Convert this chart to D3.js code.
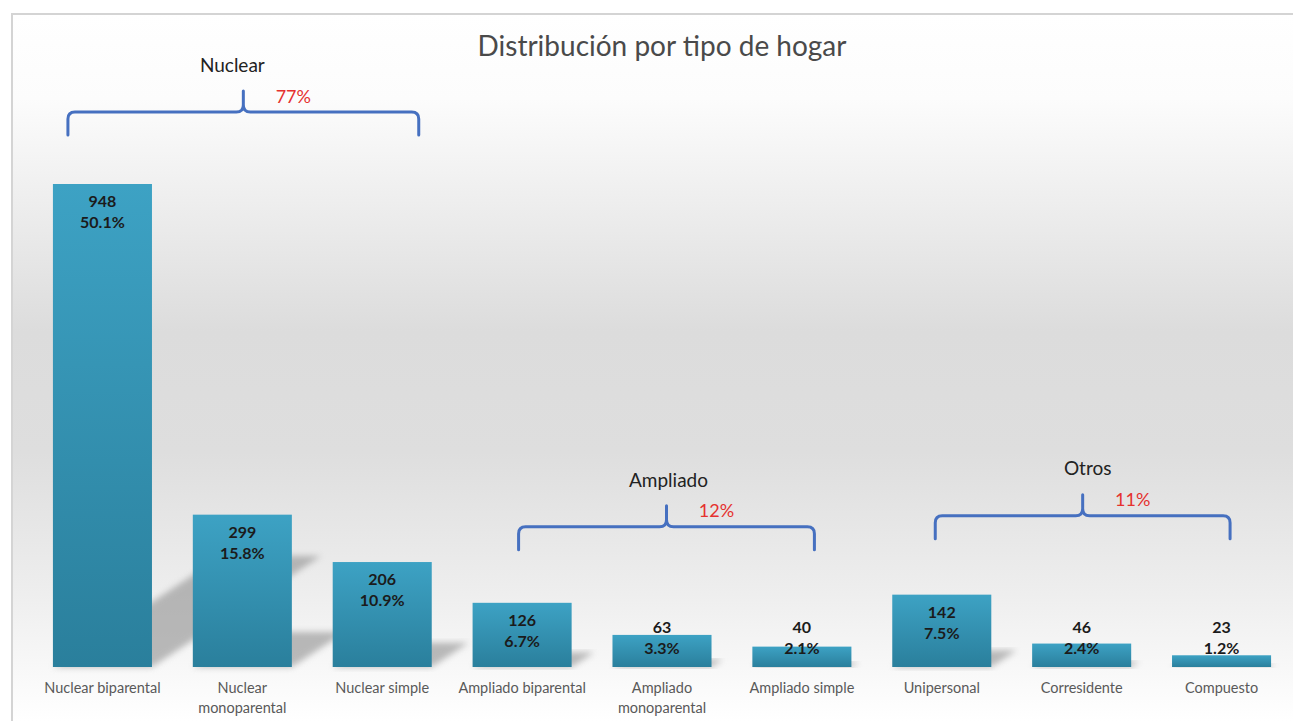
<!DOCTYPE html>
<html>
<head>
<meta charset="utf-8">
<script src="https://cdn.jsdelivr.net/npm/d3@7"></script>
<style>
  html, body { margin: 0; padding: 0; background: #fff; }
  svg { display: block; }
</style>
</head>
<body>
<svg id="chart" width="1293" height="721"></svg>
<script>
//
// DATA
//
const categories = [
    ['Nuclear biparental'],
    ['Nuclear', 'monoparental'],
    ['Nuclear simple'],
    ['Ampliado biparental'],
    ['Ampliado', 'monoparental'],
    ['Ampliado simple'],
    ['Unipersonal'],
    ['Corresidente'],
    ['Compuesto']
]
const counts = [948, 299, 206, 126, 63, 40, 142, 46, 23]
const percents = ['50.1%', '15.8%', '10.9%', '6.7%', '3.3%', '2.1%', '7.5%', '2.4%', '1.2%']
const groupNames = ['Nuclear', 'Ampliado', 'Otros']
const groupPercents = ['77%', '12%', '11%']
const groupRanges = [[0, 2], [3, 5], [6, 8]]

// brace layout: left inset, right inset, lift above tallest bar, label shift
const braceLayout = [
    [15, 13, 72, -11],
    [46, 37, 76, 2],
    [43, 41, 79, 5]
]

const W = 1293
const H = 721
const svg = d3.select('#chart')
const defs = svg.append('defs')

// background gradient of the chart area
const bg = defs.append('linearGradient')
    .attr('id', 'bgGrad')
    .attr('x1', 0).attr('y1', 0).attr('x2', 0).attr('y2', 1)
;[[0, '#ffffff'], [0.12, '#fcfcfc'], [0.45, '#dcdcdc'], [0.62, '#dedede'], [0.82, '#eeeeee'], [1, '#ffffff']]
    .forEach(s => bg.append('stop').attr('offset', s[0]).attr('stop-color', s[1]))

// bar gradient
const bar = defs.append('linearGradient')
    .attr('id', 'barGrad')
    .attr('x1', 0).attr('y1', 0).attr('x2', 0).attr('y2', 1)
bar.append('stop').attr('offset', 0).attr('stop-color', '#3da2c4')
bar.append('stop').attr('offset', 1).attr('stop-color', '#2a7f9c')

// shadow blur
defs.append('filter')
    .attr('id', 'blur')
    .attr('x', '-20%').attr('y', '-20%').attr('width', '140%').attr('height', '140%')
    .append('feGaussianBlur').attr('stdDeviation', 3)

// frame and background
svg.append('rect')
    .attr('x', 12).attr('y', 14)
    .attr('width', W - 12).attr('height', H - 14)
    .attr('fill', 'url(#bgGrad)')
svg.append('path')
    .attr('d', `M12,${H}L12,14L${W},14`)
    .attr('fill', 'none')
    .attr('stroke', '#d4d4d4')
    .attr('stroke-width', 2)

// scales
const x = d3.scaleBand()
    .domain(d3.range(counts.length))
    .range([32.5, 1291.5])
    .paddingInner(0.292)
    .paddingOuter(0.146)
const y = d3.scaleLinear()
    .domain([0, 948])
    .range([667, 184])
const bw = x.bandwidth()

// title
svg.append('text')
    .attr('x', 662)
    .attr('y', 49)
    .attr('text-anchor', 'middle')
    .attr('dominant-baseline', 'middle')
    .style('font-family', 'Lato, sans-serif')
    .style('font-size', '28px')
    .attr('fill', '#4a4a4a')
    .text('Distribución por tipo de hogar')

// shadows cast up and to the right
const g = svg.append('g')
g.selectAll('path.shadow')
    .data(counts)
    .enter()
    .append('path')
    .attr('class', 'shadow')
    .attr('d', (d, i) => {
        const x0 = x(i)
        const x1 = x0 + bw
        const h = y(0) - y(d)
        const dx = h * 0.35
        const dy = h * 0.23
        return `M${x0},${y(0)}L${x1},${y(0)}L${x1 + dx},${y(0) - dy}L${x0 + dx},${y(0) - dy}Z`
    })
    .attr('fill', '#8f8f8f')
    .attr('opacity', 0.6)
    .attr('filter', 'url(#blur)')

// bars
g.selectAll('rect.bar')
    .data(counts)
    .enter()
    .append('rect')
    .attr('class', 'bar')
    .attr('x', (d, i) => x(i))
    .attr('y', d => y(d))
    .attr('width', bw)
    .attr('height', d => y(0) - y(d))
    .attr('fill', 'url(#barGrad)')

// value labels
const labelY = d => Math.min(y(d) + 19, y(0) - 38)
const lab = g.selectAll('g.lab')
    .data(counts)
    .enter()
    .append('g')
    .attr('class', 'lab')
    .style('font-family', 'Lato, sans-serif')
    .style('font-size', '16px')
    .style('font-weight', 'bold')
    .attr('fill', '#1b1b1b')
    .attr('text-anchor', 'middle')
lab.append('text')
    .attr('x', (d, i) => x(i) + bw / 2)
    .attr('y', d => labelY(d))
    .attr('dominant-baseline', 'middle')
    .text(d => d)
lab.append('text')
    .attr('x', (d, i) => x(i) + bw / 2)
    .attr('y', d => labelY(d) + 21)
    .attr('dominant-baseline', 'middle')
    .text((d, i) => percents[i])

// category labels
const cat = g.selectAll('text.cat')
    .data(categories)
    .enter()
    .append('text')
    .attr('class', 'cat')
    .attr('text-anchor', 'middle')
    .style('font-family', 'Lato, sans-serif')
    .style('font-size', '14.5px')
    .attr('fill', '#595959')
cat.selectAll('tspan')
    .data((d, i) => d.map(t => ({ t, i })))
    .enter()
    .append('tspan')
    .attr('x', d => x(d.i) + bw / 2)
    .attr('y', (d, j) => 689 + j * 20)
    .attr('dominant-baseline', 'middle')
    .text(d => d.t)

// curly braces over the groups
const bracePath = (x0, x1, yl) => {
    const r = 7
    const d = 23
    const p = 21
    const xm = (x0 + x1) / 2
    return `M${x0},${yl + d}L${x0},${yl + r}Q${x0},${yl} ${x0 + r},${yl}` +
        `L${xm - r},${yl}Q${xm},${yl} ${xm},${yl - r}L${xm},${yl - p}` +
        `M${xm},${yl - r}Q${xm},${yl} ${xm + r},${yl}` +
        `L${x1 - r},${yl}Q${x1},${yl} ${x1},${yl + r}L${x1},${yl + d}`
}

groupNames.forEach((name, k) => {
    const [a, b] = groupRanges[k]
    const [il, ir, lift, shift] = braceLayout[k]
    const x0 = x(a) + il
    const x1 = x(b) + bw - ir
    const xm = (x0 + x1) / 2
    const top = y(d3.max(counts.slice(a, b + 1)))
    const yl = top - lift
    svg.append('path')
        .attr('d', bracePath(x0, x1, yl))
        .attr('fill', 'none')
        .attr('stroke', '#4670c0')
        .attr('stroke-width', 3)
        .attr('stroke-linecap', 'round')
    svg.append('text')
        .attr('x', xm + shift)
        .attr('y', yl - 45)
        .attr('text-anchor', 'middle')
        .attr('dominant-baseline', 'middle')
        .style('font-family', 'Lato, sans-serif')
        .style('font-size', '19px')
        .attr('fill', '#222')
        .text(name)
    svg.append('text')
        .attr('x', xm + 50)
        .attr('y', yl - 14)
        .attr('text-anchor', 'middle')
        .attr('dominant-baseline', 'middle')
        .style('font-family', 'Lato, sans-serif')
        .style('font-size', '18px')
        .attr('fill', '#e5312f')
        .text(groupPercents[k])
})
</script>
</body>
</html>
